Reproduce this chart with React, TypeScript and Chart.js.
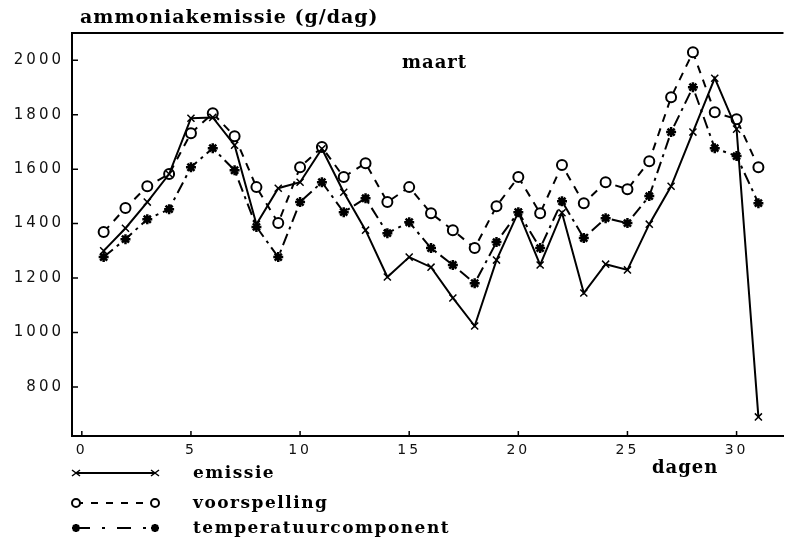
import React, { useEffect, useRef } from 'react';
import { Chart, registerables } from 'chart.js';

Chart.register(...registerables);

const days = [1, 2, 3, 4, 5, 6, 7, 8, 9, 10, 11, 12, 13, 14, 15, 16, 17, 18, 19, 20, 21, 22, 23, 24, 25, 26, 27, 28, 29, 30, 31];
const emissie = [1300, 1383, 1479, 1582, 1787, 1790, 1688, 1398, 1530, 1552, 1675, 1515, 1376, 1204, 1277, 1240, 1127, 1024, 1266, 1442, 1248, 1440, 1145, 1251, 1230, 1398, 1537, 1736, 1934, 1747, 690];
const voorspelling = [1369, 1457, 1537, 1582, 1732, 1805, 1721, 1534, 1402, 1607, 1681, 1571, 1622, 1479, 1534, 1438, 1376, 1310, 1464, 1571, 1438, 1615, 1475, 1552, 1526, 1629, 1864, 2029, 1809, 1783, 1607];
const temperatuur = [1277, 1343, 1416, 1453, 1607, 1677, 1596, 1388, 1277, 1479, 1552, 1442, 1493, 1365, 1405, 1310, 1248, 1181, 1332, 1442, 1310, 1482, 1347, 1420, 1402, 1501, 1736, 1901, 1677, 1648, 1475];
const yTicks = [800, 1000, 1200, 1400, 1600, 1800, 2000];
const xTicks = [0, 5, 10, 15, 20, 25, 30];
const seriesNames = ['emissie', 'voorspelling', 'temperatuurcomponent'];
const yTitle = 'ammoniakemissie (g/dag)';
const xTitle = 'dagen';
const monthLabel = 'maart';

function drawMarker(ctx: CanvasRenderingContext2D, kind: string, x: number, y: number) {
  ctx.save();
  ctx.strokeStyle = '#000';
  ctx.fillStyle = '#000';
  if (kind === 'cross') {
    ctx.lineWidth = 1.5;
    ctx.beginPath();
    ctx.moveTo(x - 4, y - 3); ctx.lineTo(x + 4, y + 3);
    ctx.moveTo(x - 4, y + 3); ctx.lineTo(x + 4, y - 3);
    ctx.stroke();
  } else if (kind === 'circle') {
    ctx.lineWidth = 2;
    ctx.fillStyle = '#fff';
    ctx.beginPath();
    ctx.arc(x, y, 4, 0, Math.PI * 2);
    ctx.fill();
    ctx.stroke();
  } else {
    ctx.lineWidth = 2.5;
    ctx.beginPath();
    for (let i = 0; i < 4; i++) {
      const ang = (i * Math.PI) / 4;
      ctx.moveTo(x - 4 * Math.cos(ang), y - 4 * Math.sin(ang));
      ctx.lineTo(x + 4 * Math.cos(ang), y + 4 * Math.sin(ang));
    }
    ctx.stroke();
  }
  ctx.restore();
}

const decorPlugin = {
  id: 'decor',
  beforeDraw(chart: any) {
    chart.ctx.letterSpacing = '3px';
  },
  afterDraw(chart: any) {
    const { ctx, chartArea: a, scales } = chart;
    ctx.save();
    ctx.letterSpacing = '0px';
    ctx.strokeStyle = '#000';
    ctx.lineWidth = 2;
    ctx.setLineDash([]);
    ctx.beginPath();
    ctx.moveTo(a.left - 1, a.top);
    ctx.lineTo(a.right, a.top);
    ctx.stroke();

    ctx.lineWidth = 1.5;
    ctx.beginPath();
    for (const v of yTicks) {
      const y = scales.y.getPixelForValue(v);
      ctx.moveTo(a.left, y);
      ctx.lineTo(a.left + 6, y);
    }
    for (const v of xTicks) {
      const x = scales.x.getPixelForValue(v);
      ctx.moveTo(x, a.bottom);
      ctx.lineTo(x, a.bottom - 5);
    }
    ctx.stroke();

    ctx.fillStyle = '#000';
    ctx.textAlign = 'left';
    ctx.textBaseline = 'alphabetic';
    ctx.letterSpacing = '1px';
    ctx.font = 'bold 19px "DejaVu Serif"';
    ctx.fillText(yTitle, 80, 23);

    ctx.font = 'bold 18px "DejaVu Serif"';
    ctx.fillText(monthLabel, 402, 68);
    ctx.fillText(xTitle, 652, 473);

    // legend
    const rows = [
      { y: 473, base: 478, kind: 'cross', dash: [] as number[] },
      { y: 503, base: 508, kind: 'circle', dash: [7, 8] },
      { y: 528, base: 533, kind: 'star', dash: [14, 12, 3, 12] },
    ];
    ctx.letterSpacing = '1.5px';
    ctx.font = 'bold 17px "DejaVu Serif"';
    rows.forEach((r, i) => {
      ctx.save();
      ctx.lineWidth = 2;
      ctx.setLineDash(r.dash);
      ctx.beginPath();
      ctx.moveTo(76, r.y);
      ctx.lineTo(155, r.y);
      ctx.stroke();
      ctx.restore();
      drawMarker(ctx, r.kind, 76, r.y);
      drawMarker(ctx, r.kind, 155, r.y);
      ctx.fillText(seriesNames[i], 193, r.base);
    });
    ctx.restore();
    ctx.letterSpacing = '0px';
  },
};

export default function App() {
  const ref = useRef<HTMLCanvasElement>(null);
  useEffect(() => {
    if (!ref.current) return;
    const chart = new Chart(ref.current, {
      type: 'line',
      data: {
        datasets: [
          {
            label: seriesNames[0],
            data: days.map((d, i) => ({ x: d, y: emissie[i] })),
            borderColor: '#000',
            backgroundColor: '#000',
            borderWidth: 2,
            pointStyle: 'crossRot',
            pointRadius: 5,
            pointBorderWidth: 1.5,
            pointBorderColor: '#000',
          },
          {
            label: seriesNames[1],
            data: days.map((d, i) => ({ x: d, y: voorspelling[i] })),
            borderColor: '#000',
            backgroundColor: '#fff',
            borderWidth: 2,
            borderDash: [8, 7],
            pointStyle: 'circle',
            pointRadius: 5,
            pointBorderWidth: 2,
            pointBackgroundColor: '#fff',
            pointBorderColor: '#000',
          },
          {
            label: seriesNames[2],
            data: days.map((d, i) => ({ x: d, y: temperatuur[i] })),
            borderColor: '#000',
            backgroundColor: '#000',
            borderWidth: 2,
            borderDash: [12, 5, 3, 5],
            pointStyle: 'star',
            pointRadius: 5,
            pointBorderWidth: 2.5,
            pointBorderColor: '#000',
          },
        ],
      },
      options: {
        animation: false,
        responsive: false,
        layout: { padding: { left: 0, top: 33, right: 0, bottom: 0 } },
        plugins: { legend: { display: false }, tooltip: { enabled: false }, title: { display: false } },
        elements: { line: { tension: 0 } },
        scales: {
          x: {
            type: 'linear',
            min: -0.45,
            max: 32.15,
            afterBuildTicks: (s: any) => { s.ticks = xTicks.map((v) => ({ value: v })); },
            afterFit: (s: any) => { s.height = 102; },
            grid: { display: false, drawTicks: false },
            border: { display: true, color: '#000', width: 2 },
            ticks: {
              color: '#111',
              padding: 6,
              maxRotation: 0,
              autoSkip: false,
              callback: (v: any) => String(v),
              font: { family: '"DejaVu Sans"', size: 14 },
            },
          },
          y: {
            type: 'linear',
            min: 620,
            max: 2100,
            afterBuildTicks: (s: any) => { s.ticks = yTicks.map((v) => ({ value: v })); },
            afterFit: (s: any) => { s.width = 72; },
            grid: { display: false, drawTicks: false },
            border: { display: true, color: '#000', width: 2 },
            ticks: {
              color: '#111',
              padding: 8,
              callback: (v: any) => String(v),
              font: { family: '"DejaVu Sans"', size: 15 },
            },
          },
        },
      },
      plugins: [decorPlugin],
    } as any);
    return () => chart.destroy();
  }, []);
  return (
    <div style={{ position: 'absolute', left: 0, top: 0, width: 791, height: 538, background: '#fff' }}>
      <canvas ref={ref} width={791} height={538} style={{ display: 'block' }} />
    </div>
  );
}
